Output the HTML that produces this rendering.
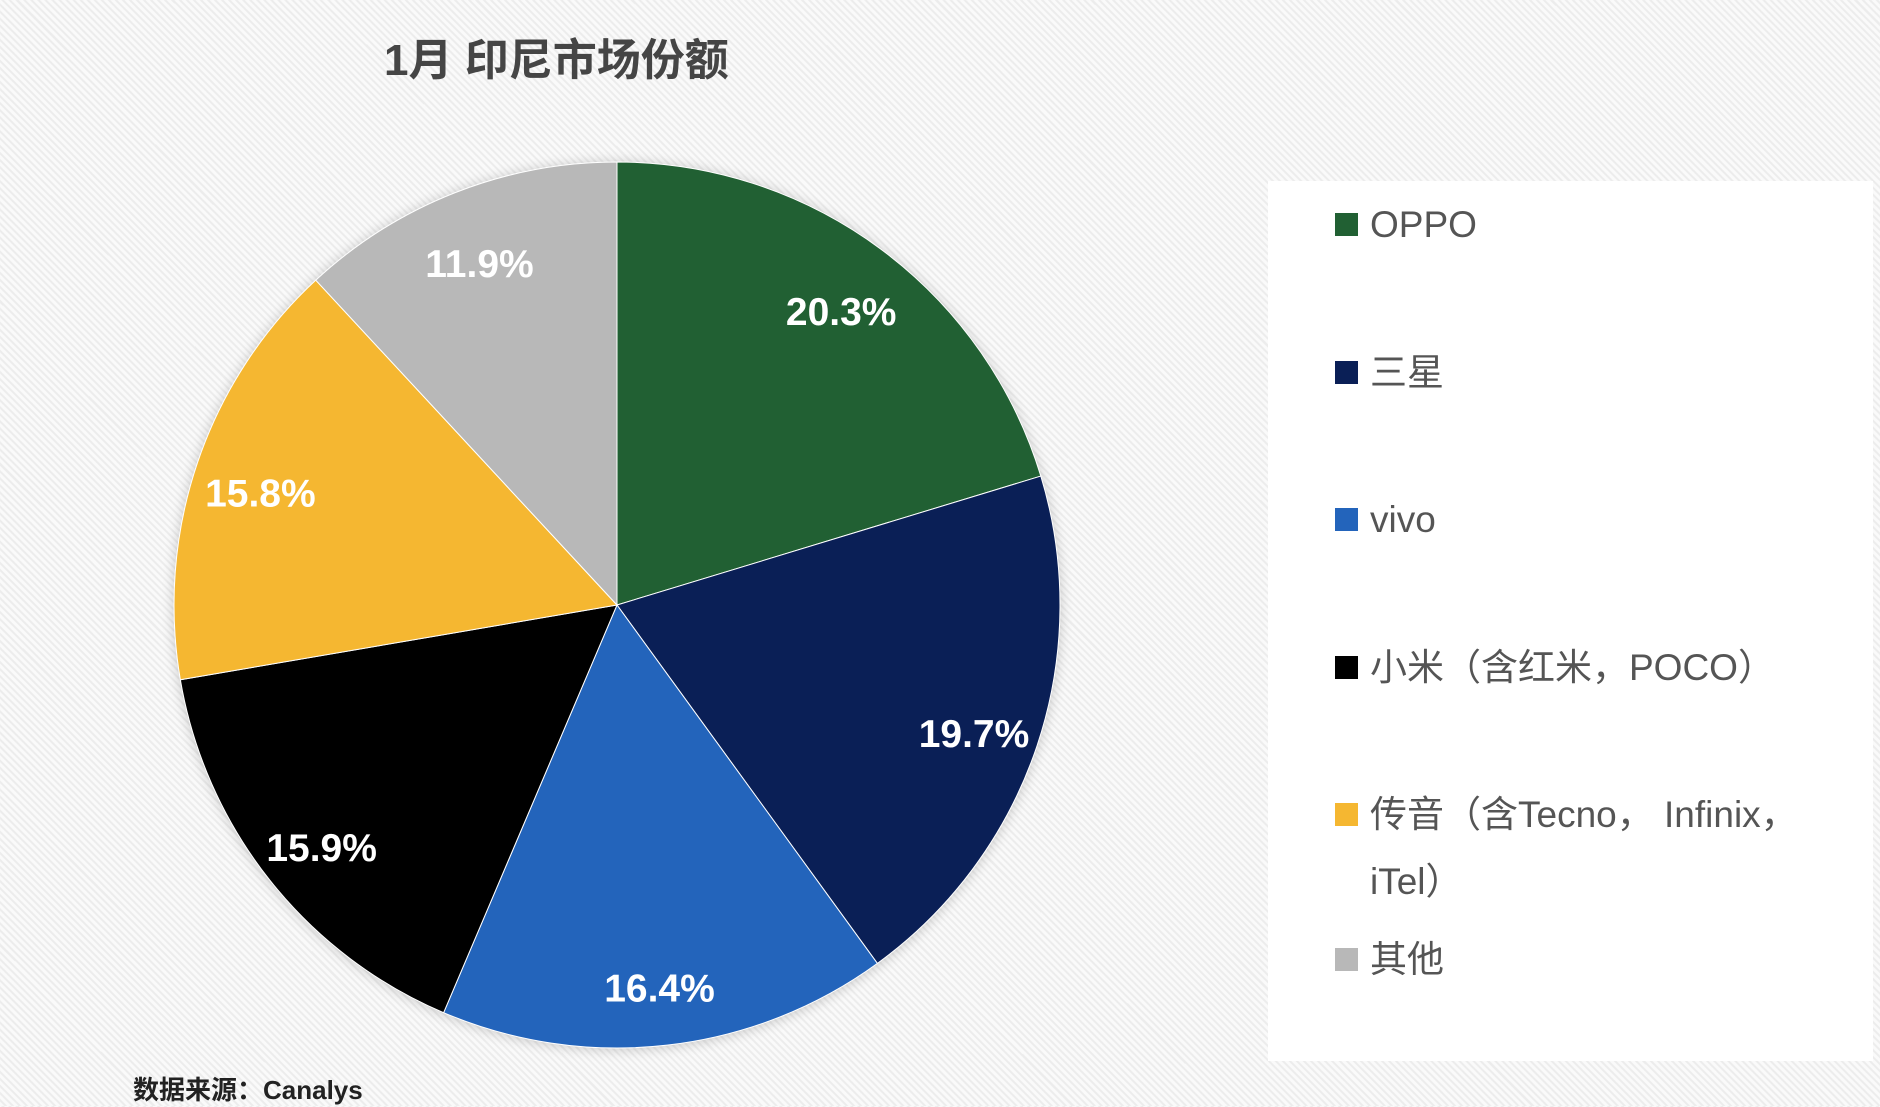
<!DOCTYPE html>
<html><head><meta charset="utf-8"><style>
html,body{margin:0;padding:0}
body{width:1880px;height:1106px;position:relative;overflow:hidden;font-family:"Liberation Sans","Noto Sans CJK SC",sans-serif;
background:repeating-linear-gradient(45deg,#fafafa 0,#fafafa 3px,#ececec 3px,#ececec 5px);}
#title{position:absolute;left:384px;top:24px;font-size:44px;font-weight:bold;color:#454545;white-space:nowrap}
#legend{position:absolute;left:1268px;top:181px;width:605px;height:880px;background:#fff}
.li{position:absolute;left:67px;font-size:37px;color:#555;white-space:nowrap;line-height:67px}
.sw{position:absolute;left:0;width:23px;height:23px}
.li span.t{position:absolute;left:35px;top:0}
#source{position:absolute;left:133px;top:1070px;font-size:26px;font-weight:bold;color:#222;white-space:nowrap}
</style></head><body>
<div id="title">1月 印尼市场份额</div>
<svg id="pie" width="1880" height="1106" style="position:absolute;left:0;top:0">
<defs><filter id="sh" x="-10%" y="-10%" width="120%" height="120%"><feGaussianBlur stdDeviation="6"/></filter></defs>
<circle cx="617" cy="606" r="444" fill="#000" opacity="0.18" filter="url(#sh)"/>
<g id="slices"></g><g id="labels"></g>
</svg>
<div id="legend"></div>
<div id="source">数据来源：Canalys</div>
<script>
const categories=["OPPO","三星","vivo","小米（含红米，POCO）","传音（含Tecno， Infinix，","其他"];
const values=[20.3,19.7,16.4,15.9,15.8,11.9];
const valueLabels=["20.3%","19.7%","16.4%","15.9%","15.8%","11.9%"];
const colors=["#216033","#0a1f56","#2364bb","#000000","#f5b731","#b8b8b8"];
const cx=617,cy=605,R=443,LR=0.85*R;
const NS="http://www.w3.org/2000/svg";
const total=values.reduce((a,b)=>a+b,0);
const sg=document.getElementById('slices'),lg=document.getElementById('labels');
let acc=0;
function pt(a,r){return [cx+r*Math.sin(a),cy-r*Math.cos(a)];}
values.forEach((v,i)=>{
  const a0=acc/total*2*Math.PI;acc+=v;const a1=acc/total*2*Math.PI;
  const p0=pt(a0,R),p1=pt(a1,R);
  const p=document.createElementNS(NS,'path');
  p.setAttribute('d',`M${cx},${cy}L${p0[0]},${p0[1]}A${R},${R} 0 ${a1-a0>Math.PI?1:0} 1 ${p1[0]},${p1[1]}Z`);
  p.setAttribute('fill',colors[i]);p.setAttribute('stroke','#fff');p.setAttribute('stroke-width','1');
  
  
  sg.appendChild(p);
  const m=(a0+a1)/2,lp=pt(m,LR);
  const t=document.createElementNS(NS,'text');
  t.setAttribute('x',lp[0]);t.setAttribute('y',lp[1]+10);
  t.setAttribute('text-anchor','middle');t.setAttribute('dominant-baseline','central');
  t.setAttribute('fill','#fff');t.setAttribute('font-size','39');t.setAttribute('font-weight','bold');
  t.setAttribute('font-family','Liberation Sans, sans-serif');
  t.textContent=valueLabels[i];
  
  
  lg.appendChild(t);
});
const tops=[10,158,305,453,600,745];
const leg=document.getElementById('legend');
categories.forEach((c,i)=>{
  const d=document.createElement('div');d.className='li';d.style.top=tops[i]+'px';
  
  
  d.innerHTML='<div class="sw" style="top:22px;background:'+colors[i]+'"></div><span class="t">'+c+(i==4?'<br>iTel）':'')+'</span>';
  leg.appendChild(d);
});
</script>
</body></html>
